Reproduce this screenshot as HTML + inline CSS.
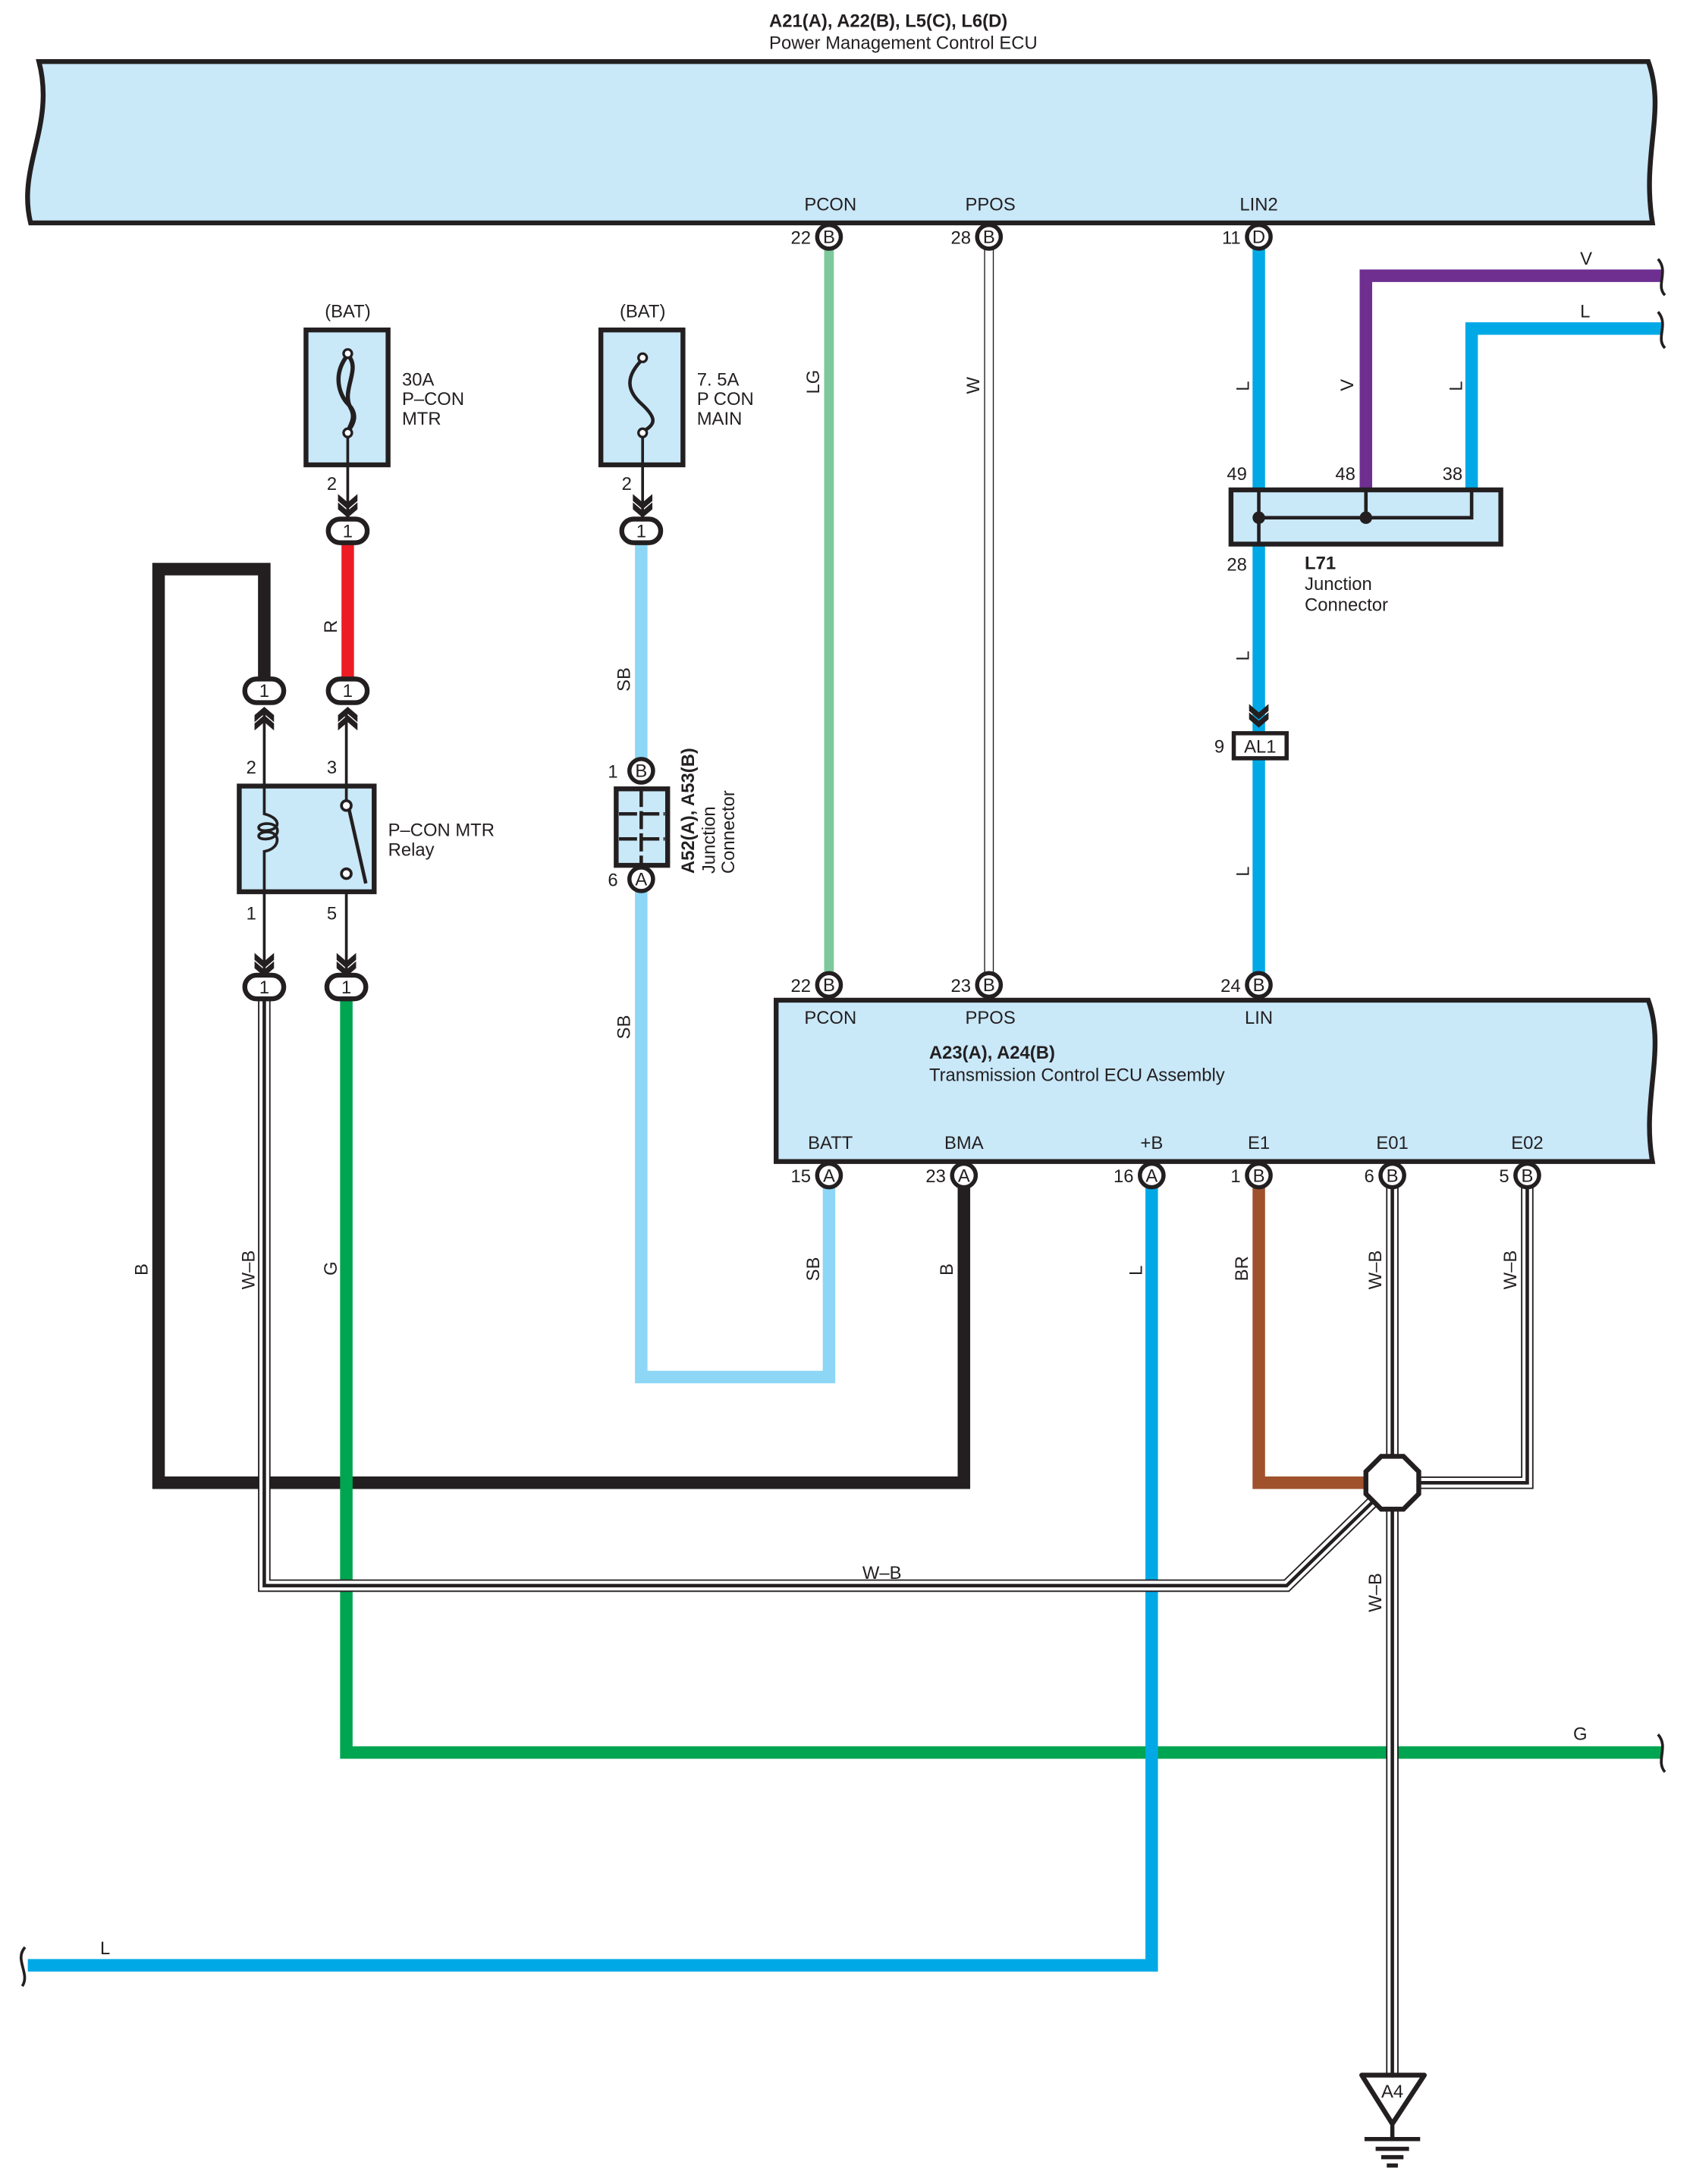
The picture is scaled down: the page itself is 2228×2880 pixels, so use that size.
<!DOCTYPE html>
<html><head><meta charset="utf-8"><style>
html,body{margin:0;padding:0;background:#fff}
svg{display:block}
text{font-family:"Liberation Sans",sans-serif;font-size:13px;fill:#231f20}
.b{font-weight:bold}
</style></head><body>
<svg width="2228" height="2880" viewBox="0 0 1215 1570" xmlns="http://www.w3.org/2000/svg">
<defs>
<g id="chevD"><path d="M-7,-9 L0,-3 L7,-9 L7,-4 L0,2 L-7,-4Z M-7,-3 L0,3 L7,-3 L7,2 L0,8 L-7,2Z" fill="#231f20"/></g>
</defs>
<!-- Top ECU -->
<path d="M28,44 L1185,44 C1198,80 1180,110 1188,160 L22,160 C12,120 40,90 28,44Z" fill="#c9e8f8" stroke="#231f20" stroke-width="3.5"/>
<text x="553" y="19" class="b" font-size="12.5">A21(A), A22(B), L5(C), L6(D)</text>
<text x="553" y="35">Power Management Control ECU</text>
<text x="597" y="151" text-anchor="middle">PCON</text>
<text x="712" y="151" text-anchor="middle">PPOS</text>
<text x="905" y="151" text-anchor="middle">LIN2</text>

<!-- Wires top section -->
<line x1="596" y1="178" x2="596" y2="700" stroke="#7dc99b" stroke-width="7"/>
<line x1="711" y1="178" x2="711" y2="700" stroke="#231f20" stroke-width="7"/>
<line x1="711" y1="178" x2="711" y2="700" stroke="#fff" stroke-width="5.5"/>
<line x1="905" y1="178" x2="905" y2="700" stroke="#00a9e6" stroke-width="9"/>
<path d="M982,352 V198 H1195" fill="none" stroke="#6f2f91" stroke-width="9"/>
<path d="M1058,352 V236 H1195" fill="none" stroke="#00a9e6" stroke-width="9"/>
<path d="M1192,186 C1200,195 1190,205 1197,212 M1192,224 C1200,233 1190,243 1197,250" fill="none" stroke="#231f20" stroke-width="2"/>
<text x="1136" y="190">V</text><text x="1136" y="228">L</text>

<!-- L71 -->
<rect x="885" y="352" width="194" height="39" fill="#c9e8f8" stroke="#231f20" stroke-width="3.5"/>
<path d="M905,352 V391 M905,372 H1058 V352 M982,352 V372" fill="none" stroke="#231f20" stroke-width="2.5"/>
<circle cx="905" cy="372" r="4.5" fill="#231f20"/><circle cx="982" cy="372" r="4.5" fill="#231f20"/>
<text x="882" y="345">49</text><text x="960" y="345">48</text><text x="1037" y="345">38</text>
<text x="882" y="410">28</text>
<text x="938" y="409" class="b">L71</text><text x="938" y="424">Junction</text><text x="938" y="439">Connector</text>

<!-- AL1 -->
<use href="#chevD" x="905" y="515"/>
<rect x="887" y="527" width="38" height="18" fill="#fff" stroke="#231f20" stroke-width="3"/>
<text x="906" y="541" text-anchor="middle">AL1</text><text x="873" y="541">9</text>

<!-- Fuses -->
<text x="250" y="228" text-anchor="middle">(BAT)</text>
<rect x="220" y="237" width="59" height="97" fill="#c9e8f8" stroke="#231f20" stroke-width="3.5"/>
<path d="M250,255 C238,270 245,285 250,290 C258,298 254,305 250,310 M250,255 C260,265 245,280 252,293 C256,300 252,305 250,310" fill="none" stroke="#231f20" stroke-width="3"/>
<circle cx="250" cy="254" r="3" fill="#fff" stroke="#231f20" stroke-width="1.8"/><circle cx="250" cy="311" r="3" fill="#fff" stroke="#231f20" stroke-width="1.8"/>
<line x1="250" y1="314" x2="250" y2="372" stroke="#231f20" stroke-width="2"/>
<text x="289" y="277">30A</text><text x="289" y="291">P–CON</text><text x="289" y="305">MTR</text>
<text x="235" y="352">2</text><use href="#chevD" x="250" y="364"/>

<text x="462" y="228" text-anchor="middle">(BAT)</text>
<rect x="432" y="237" width="59" height="97" fill="#c9e8f8" stroke="#231f20" stroke-width="3.5"/>
<path d="M462,258 C450,270 450,280 461,290 C472,300 472,305 462,310" fill="none" stroke="#231f20" stroke-width="2.5"/>
<circle cx="462" cy="257" r="3" fill="#fff" stroke="#231f20" stroke-width="1.8"/><circle cx="462" cy="311" r="3" fill="#fff" stroke="#231f20" stroke-width="1.8"/>
<line x1="462" y1="314" x2="462" y2="372" stroke="#231f20" stroke-width="2"/>
<text x="501" y="277">7. 5A</text><text x="501" y="291">P CON</text><text x="501" y="305">MAIN</text>
<text x="447" y="352">2</text><use href="#chevD" x="462" y="364"/>

<!-- Black B wire -->
<path d="M693,853 V1066 H114 V409 H190 V490" fill="none" stroke="#231f20" stroke-width="9"/>
<!-- Red -->
<line x1="250" y1="390" x2="250" y2="490" stroke="#ed1c24" stroke-width="9"/>
<!-- SB -->
<line x1="461" y1="390" x2="461" y2="548" stroke="#8dd6f6" stroke-width="9"/>
<path d="M461,638 V990 H596 V853" fill="none" stroke="#8dd6f6" stroke-width="9"/>
<!-- G -->
<path d="M249,718 V1260 H1195" fill="none" stroke="#00a551" stroke-width="9"/>
<path d="M1192,1247 C1200,1256 1190,1266 1197,1274" fill="none" stroke="#231f20" stroke-width="2"/>
<text x="1131" y="1251">G</text>
<!-- L bottom -->
<path d="M828,853 V1413 H20" fill="none" stroke="#00a9e6" stroke-width="9"/>
<path d="M18,1400 C10,1409 22,1419 16,1428" fill="none" stroke="#231f20" stroke-width="2"/>
<text x="72" y="1405">L</text>
<!-- BR -->
<path d="M905,853 V1066 H985" fill="none" stroke="#a0522d" stroke-width="9"/>
<!-- W-B wires -->
<g fill="none" stroke-linejoin="miter">
<path d="M1001,853 V1492 M1098,853 V1066 H1001 M1001,1066 L925,1140 H190 V718" stroke="#231f20" stroke-width="9"/>
<path d="M1001,853 V1492 M1098,853 V1066 H1001 M1001,1066 L925,1140 H190 V718" stroke="#fff" stroke-width="7"/>
<path d="M1001,853 V1492 M1098,853 V1066 H1001 M1001,1066 L925,1140 H190 V718" stroke="#231f20" stroke-width="2.5"/>
</g>
<!-- octagon -->
<polygon points="993,1047 1009,1047 1020,1058 1020,1074 1009,1085 993,1085 982,1074 982,1058" fill="#fff" stroke="#231f20" stroke-width="3.5"/>
<!-- ground -->
<polygon points="979,1492 1024,1492 1001,1527" fill="#fff" stroke="#231f20" stroke-width="3.5" stroke-linejoin="round"/>
<text x="1001" y="1508" text-anchor="middle">A4</text>
<path d="M1001,1527 V1538 M981,1538 H1021 M989,1545 H1013 M993,1551 H1009 M997,1557 H1005" stroke="#231f20" stroke-width="3"/>

<!-- Relay -->
<use href="#chevD" x="190" y="516" transform="rotate(180 190 516)"/>
<use href="#chevD" x="250" y="516" transform="rotate(180 250 516)"/>
<rect x="172" y="565" width="97" height="76" fill="#c9e8f8" stroke="#231f20" stroke-width="3.5"/>
<path d="M190,510 V585 C202,588 202,596 192,597 C184,598 184,592 192,592 C202,592 202,602 192,603 C184,604 184,598 192,598 C202,598 202,610 190,612 V700" fill="none" stroke="#231f20" stroke-width="2"/>
<path d="M249,510 V576 M249,640 V700" stroke="#231f20" stroke-width="2"/>
<circle cx="249" cy="579" r="3.5" fill="#fff" stroke="#231f20" stroke-width="2"/>
<circle cx="249" cy="628" r="3.5" fill="#fff" stroke="#231f20" stroke-width="2"/>
<line x1="251" y1="582" x2="263" y2="635" stroke="#231f20" stroke-width="2.5"/>
<text x="177" y="556">2</text><text x="235" y="556">3</text><text x="177" y="661">1</text><text x="235" y="661">5</text>
<text x="279" y="601">P–CON MTR</text><text x="279" y="615">Relay</text>
<use href="#chevD" x="190" y="694"/><use href="#chevD" x="249" y="694"/>

<!-- oval connectors -->
<g fill="#fff" stroke="#231f20" stroke-width="3.5">
<rect x="236" y="373" width="28" height="17" rx="8.5"/>
<rect x="447" y="373" width="28" height="17" rx="8.5"/>
<rect x="176" y="488" width="28" height="17" rx="8.5"/>
<rect x="236" y="488" width="28" height="17" rx="8.5"/>
<rect x="176" y="701" width="28" height="17" rx="8.5"/>
<rect x="235" y="701" width="28" height="17" rx="8.5"/>
</g>
<g text-anchor="middle" font-size="12">
<text x="250" y="386">1</text><text x="461" y="386">1</text><text x="190" y="501">1</text><text x="250" y="501">1</text><text x="190" y="714">1</text><text x="249" y="714">1</text>
</g>

<!-- A52 junction -->
<rect x="443" y="567" width="37" height="55" fill="#c9e8f8" stroke="#231f20" stroke-width="3.5"/>
<path d="M461,567 V622 M445,585 H478 M445,603 H478" stroke="#231f20" stroke-width="2.5" stroke-dasharray="13 3"/>
<text transform="translate(499,628) rotate(-90)" class="b" font-size="12.5">A52(A), A53(B)</text>
<text transform="translate(514,628) rotate(-90)">Junction</text>
<text transform="translate(528,628) rotate(-90)">Connector</text>
<text x="437" y="559">1</text><text x="437" y="637">6</text>

<!-- Lower ECU -->
<path d="M558,719 L1185,719 C1198,755 1180,790 1188,835 L558,835Z" fill="#c9e8f8" stroke="#231f20" stroke-width="3.5"/>
<text x="597" y="736" text-anchor="middle">PCON</text>
<text x="712" y="736" text-anchor="middle">PPOS</text>
<text x="905" y="736" text-anchor="middle">LIN</text>
<text x="668" y="761" class="b" font-size="12.5">A23(A), A24(B)</text>
<text x="668" y="777">Transmission Control ECU Assembly</text>
<text x="597" y="826" text-anchor="middle">BATT</text>
<text x="693" y="826" text-anchor="middle">BMA</text>
<text x="828" y="826" text-anchor="middle">+B</text>
<text x="905" y="826" text-anchor="middle">E1</text>
<text x="1001" y="826" text-anchor="middle">E01</text>
<text x="1098" y="826" text-anchor="middle">E02</text>

<!-- pin circles -->
<g fill="#fff" stroke="#231f20" stroke-width="3">
<circle cx="596" cy="170" r="8.5"/><circle cx="711" cy="170" r="8.5"/><circle cx="905" cy="170" r="8.5"/>
<circle cx="461" cy="554" r="8.5"/><circle cx="461" cy="632" r="8.5"/>
<circle cx="596" cy="708" r="8.5"/><circle cx="711" cy="708" r="8.5"/><circle cx="905" cy="708" r="8.5"/>
<circle cx="596" cy="845" r="8.5"/><circle cx="693" cy="845" r="8.5"/><circle cx="828" cy="845" r="8.5"/>
<circle cx="905" cy="845" r="8.5"/><circle cx="1001" cy="845" r="8.5"/><circle cx="1098" cy="845" r="8.5"/>
</g>
<g text-anchor="middle" font-size="12">
<text x="596" y="174.5">B</text><text x="711" y="174.5">B</text><text x="905" y="174.5">D</text>
<text x="461" y="558.5">B</text><text x="461" y="636.5">A</text>
<text x="596" y="712.5">B</text><text x="711" y="712.5">B</text><text x="905" y="712.5">B</text>
<text x="596" y="849.5">A</text><text x="693" y="849.5">A</text><text x="828" y="849.5">A</text>
<text x="905" y="849.5">B</text><text x="1001" y="849.5">B</text><text x="1098" y="849.5">B</text>
</g>
<g text-anchor="end">
<text x="583" y="175">22</text><text x="698" y="175">28</text><text x="892" y="175">11</text>
<text x="583" y="713">22</text><text x="698" y="713">23</text><text x="892" y="713">24</text>
<text x="583" y="850">15</text><text x="680" y="850">23</text><text x="815" y="850">16</text>
<text x="892" y="850">1</text><text x="988" y="850">6</text><text x="1085" y="850">5</text>
</g>

<!-- rotated wire labels -->
<g>
<text transform="translate(589,283) rotate(-90)">LG</text>
<text transform="translate(704,283) rotate(-90)">W</text>
<text transform="translate(898,281) rotate(-90)">L</text>
<text transform="translate(973,281) rotate(-90)">V</text>
<text transform="translate(1051,281) rotate(-90)">L</text>
<text transform="translate(898,475) rotate(-90)">L</text>
<text transform="translate(898,630) rotate(-90)">L</text>
<text transform="translate(242,455) rotate(-90)">R</text>
<text transform="translate(453,497) rotate(-90)">SB</text>
<text transform="translate(453,747) rotate(-90)">SB</text>
<text transform="translate(106,917) rotate(-90)">B</text>
<text transform="translate(183,927) rotate(-90)">W–B</text>
<text transform="translate(242,917) rotate(-90)">G</text>
<text transform="translate(589,921) rotate(-90)">SB</text>
<text transform="translate(685,917) rotate(-90)">B</text>
<text transform="translate(821,917) rotate(-90)">L</text>
<text transform="translate(897,921) rotate(-90)">BR</text>
<text transform="translate(993,927) rotate(-90)">W–B</text>
<text transform="translate(1090,927) rotate(-90)">W–B</text>
<text transform="translate(993,1159) rotate(-90)">W–B</text>
</g>
<text x="620" y="1135">W–B</text>
</svg>
</body></html>
